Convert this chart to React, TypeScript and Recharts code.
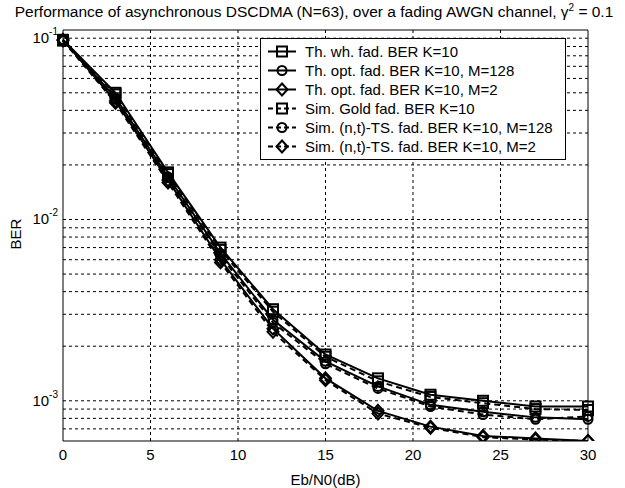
import React from "react"
import { LineChart, Line, XAxis, YAxis, ReferenceLine, ReferenceArea, Legend } from "recharts"

// Eb/N0 in dB
const ebn0 = [0, 3, 6, 9, 12, 15, 18, 21, 24, 27, 30]

// BER curves
const thWh = [0.098, 0.05, 0.0182, 0.007, 0.0032, 0.0018, 0.00133, 0.00108, 0.001, 0.00093, 0.00093]
const thOpt128 = [0.098, 0.047, 0.0172, 0.0065, 0.0028, 0.00165, 0.0012, 0.00095, 0.00087, 0.00081, 0.00079]
const thOpt2 = [0.098, 0.045, 0.0165, 0.006, 0.0025, 0.00133, 0.00088, 0.00072, 0.00064, 0.00062, 0.0006]
const simGold = [0.097, 0.049, 0.0178, 0.0068, 0.0031, 0.00175, 0.00128, 0.00105, 0.00097, 0.0009, 0.00089]
const simTs128 = [0.097, 0.046, 0.017, 0.0063, 0.0027, 0.0016, 0.00117, 0.00093, 0.00084, 0.00079, 0.00082]
const simTs2 = [0.097, 0.044, 0.016, 0.0058, 0.0024, 0.0013, 0.00085, 0.00071, 0.00063, 0.00061, 0.0006]

const xTicks = [0, 5, 10, 15, 20, 25, 30]
const yTicks = [0.001, 0.01, 0.1]
const xGrid = [5, 10, 15, 20, 25]
const yGrid = [
  0.0007, 0.0008, 0.0009, 0.001,
  0.002, 0.003, 0.004, 0.005, 0.006, 0.007, 0.008, 0.009, 0.01,
  0.02, 0.03, 0.04, 0.05, 0.06, 0.07, 0.08, 0.09, 0.1,
]
const yMin = 0.0006
const yMax = 0.111

const FONT = "'Liberation Sans', Arial, sans-serif"

type Shape = "square" | "circle" | "diamond"

const series: { key: string; name: string; values: number[]; shape: Shape; dashed: boolean }[] = [
  { key: "thWh", name: "Th. wh. fad. BER K=10", values: thWh, shape: "square", dashed: false },
  { key: "thOpt128", name: "Th. opt. fad. BER K=10, M=128", values: thOpt128, shape: "circle", dashed: false },
  { key: "thOpt2", name: "Th. opt. fad. BER K=10, M=2", values: thOpt2, shape: "diamond", dashed: false },
  { key: "simGold", name: "Sim. Gold fad. BER K=10", values: simGold, shape: "square", dashed: true },
  { key: "simTs128", name: "Sim. (n,t)-TS. fad. BER K=10, M=128", values: simTs128, shape: "circle", dashed: true },
  { key: "simTs2", name: "Sim. (n,t)-TS. fad. BER K=10, M=2", values: simTs2, shape: "diamond", dashed: true },
]

const data = ebn0.map((x, i) => {
  const row: Record<string, number> = { x }
  series.forEach((s) => (row[s.key] = s.values[i]))
  return row
})

function Marker({ shape, cx, cy }: { shape: Shape; cx: number; cy: number }) {
  if (shape === "square") {
    return <rect x={cx - 5} y={cy - 5} width={10} height={10} fill="none" stroke="#000" strokeWidth={2} />
  }
  if (shape === "circle") {
    return <circle cx={cx} cy={cy} r={4.5} fill="none" stroke="#000" strokeWidth={2} />
  }
  return (
    <path
      d={`M${cx},${cy - 6}L${cx + 5.5},${cy}L${cx},${cy + 6}L${cx - 5.5},${cy}Z`}
      fill="none"
      stroke="#000"
      strokeWidth={2}
    />
  )
}

const makeDot = (shape: Shape) => (props: any) => {
  const { cx, cy, index } = props
  if (cx == null || cy == null) return <g key={index} />
  return (
    <g key={index}>
      <Marker shape={shape} cx={cx} cy={cy} />
    </g>
  )
}

const PowTick = (props: any) => {
  const { x, y, payload } = props
  const exp = Math.round(Math.log10(payload.value))
  return (
    <text x={x} y={y} textAnchor="end" fontSize={15} fill="#000" fontFamily={FONT} dy={5}>
      <tspan>10</tspan>
      <tspan dy={-8} fontSize={10}>{exp}</tspan>
    </text>
  )
}

const renderLegend = () => (
  <div
    style={{
      display: "inline-block",
      border: "1px solid #000",
      background: "#fff",
      padding: "3px 12px 3px 0",
      fontFamily: FONT,
      fontSize: 15,
      color: "#000",
    }}
  >
    {series.map((s) => (
      <div key={s.key} style={{ display: "flex", alignItems: "center", height: 19 }}>
        <svg width={44} height={19} style={{ flex: "none" }}>
          <line
            x1={7}
            x2={35}
            y1={9.5}
            y2={9.5}
            stroke="#000"
            strokeWidth={2}
            strokeDasharray={s.dashed ? "5 3" : undefined}
          />
          <Marker shape={s.shape} cx={21} cy={9.5} />
        </svg>
        <span style={{ whiteSpace: "nowrap" }}>{s.name}</span>
      </div>
    ))}
  </div>
)

export default function App() {
  return (
    <div style={{ position: "absolute", left: 0, top: 0, width: 625, height: 488, background: "#fff" }}>
      <div
        style={{
          position: "absolute",
          left: 0,
          top: 2,
          width: 628,
          textAlign: "center",
          fontFamily: FONT,
          fontSize: 15.5,
          color: "#000",
          whiteSpace: "nowrap",
        }}
      >
        Performance of asynchronous DSCDMA (N=63), over a fading AWGN channel, γ<sup style={{ fontSize: 10 }}>2</sup> = 0.1
      </div>
      <LineChart
        width={625}
        height={488}
        data={data}
        margin={{ top: 30, right: 37, bottom: 0, left: 0 }}
        style={{ fontFamily: FONT }}
      >
        {yGrid.map((v) => (
          <ReferenceLine key={"y" + v} y={v} stroke="#000" strokeDasharray="3 3" strokeWidth={1} />
        ))}
        {xGrid.map((v) => (
          <ReferenceLine key={"x" + v} x={v} stroke="#000" strokeDasharray="3 3" strokeWidth={1} />
        ))}
        <XAxis
          dataKey="x"
          type="number"
          domain={[0, 30]}
          ticks={xTicks}
          height={47}
          tickSize={0}
          tickMargin={8}
          axisLine={false}
          tick={{ fontSize: 15, fill: "#000" }}
          label={{ value: "Eb/N0(dB)", position: "insideBottom", offset: 3, fontSize: 15, fill: "#000" }}
        />
        <YAxis
          type="number"
          scale="log"
          domain={[yMin, yMax]}
          ticks={yTicks}
          allowDataOverflow
          width={63}
          tickSize={0}
          tickMargin={5}
          axisLine={false}
          tick={<PowTick />}
          label={{ value: "BER", angle: -90, position: "insideLeft", offset: 16, fontSize: 15, fill: "#000", dy: 14 }}
        />
        <ReferenceArea x1={0} x2={30} y1={yMin} y2={yMax} fill="none" stroke="#000" strokeWidth={1} />
        {series.map((s) => (
          <Line
            key={s.key}
            dataKey={s.key}
            name={s.name}
            stroke="#000"
            strokeWidth={2}
            strokeDasharray={s.dashed ? "6 4" : undefined}
            dot={makeDot(s.shape)}
            activeDot={false}
            isAnimationActive={false}
          />
        ))}
        <Legend
          layout="vertical"
          align="center"
          verticalAlign="middle"
          content={renderLegend}
          wrapperStyle={{ left: 260, top: 38, width: "auto" }}
        />
      </LineChart>
    </div>
  )
}
